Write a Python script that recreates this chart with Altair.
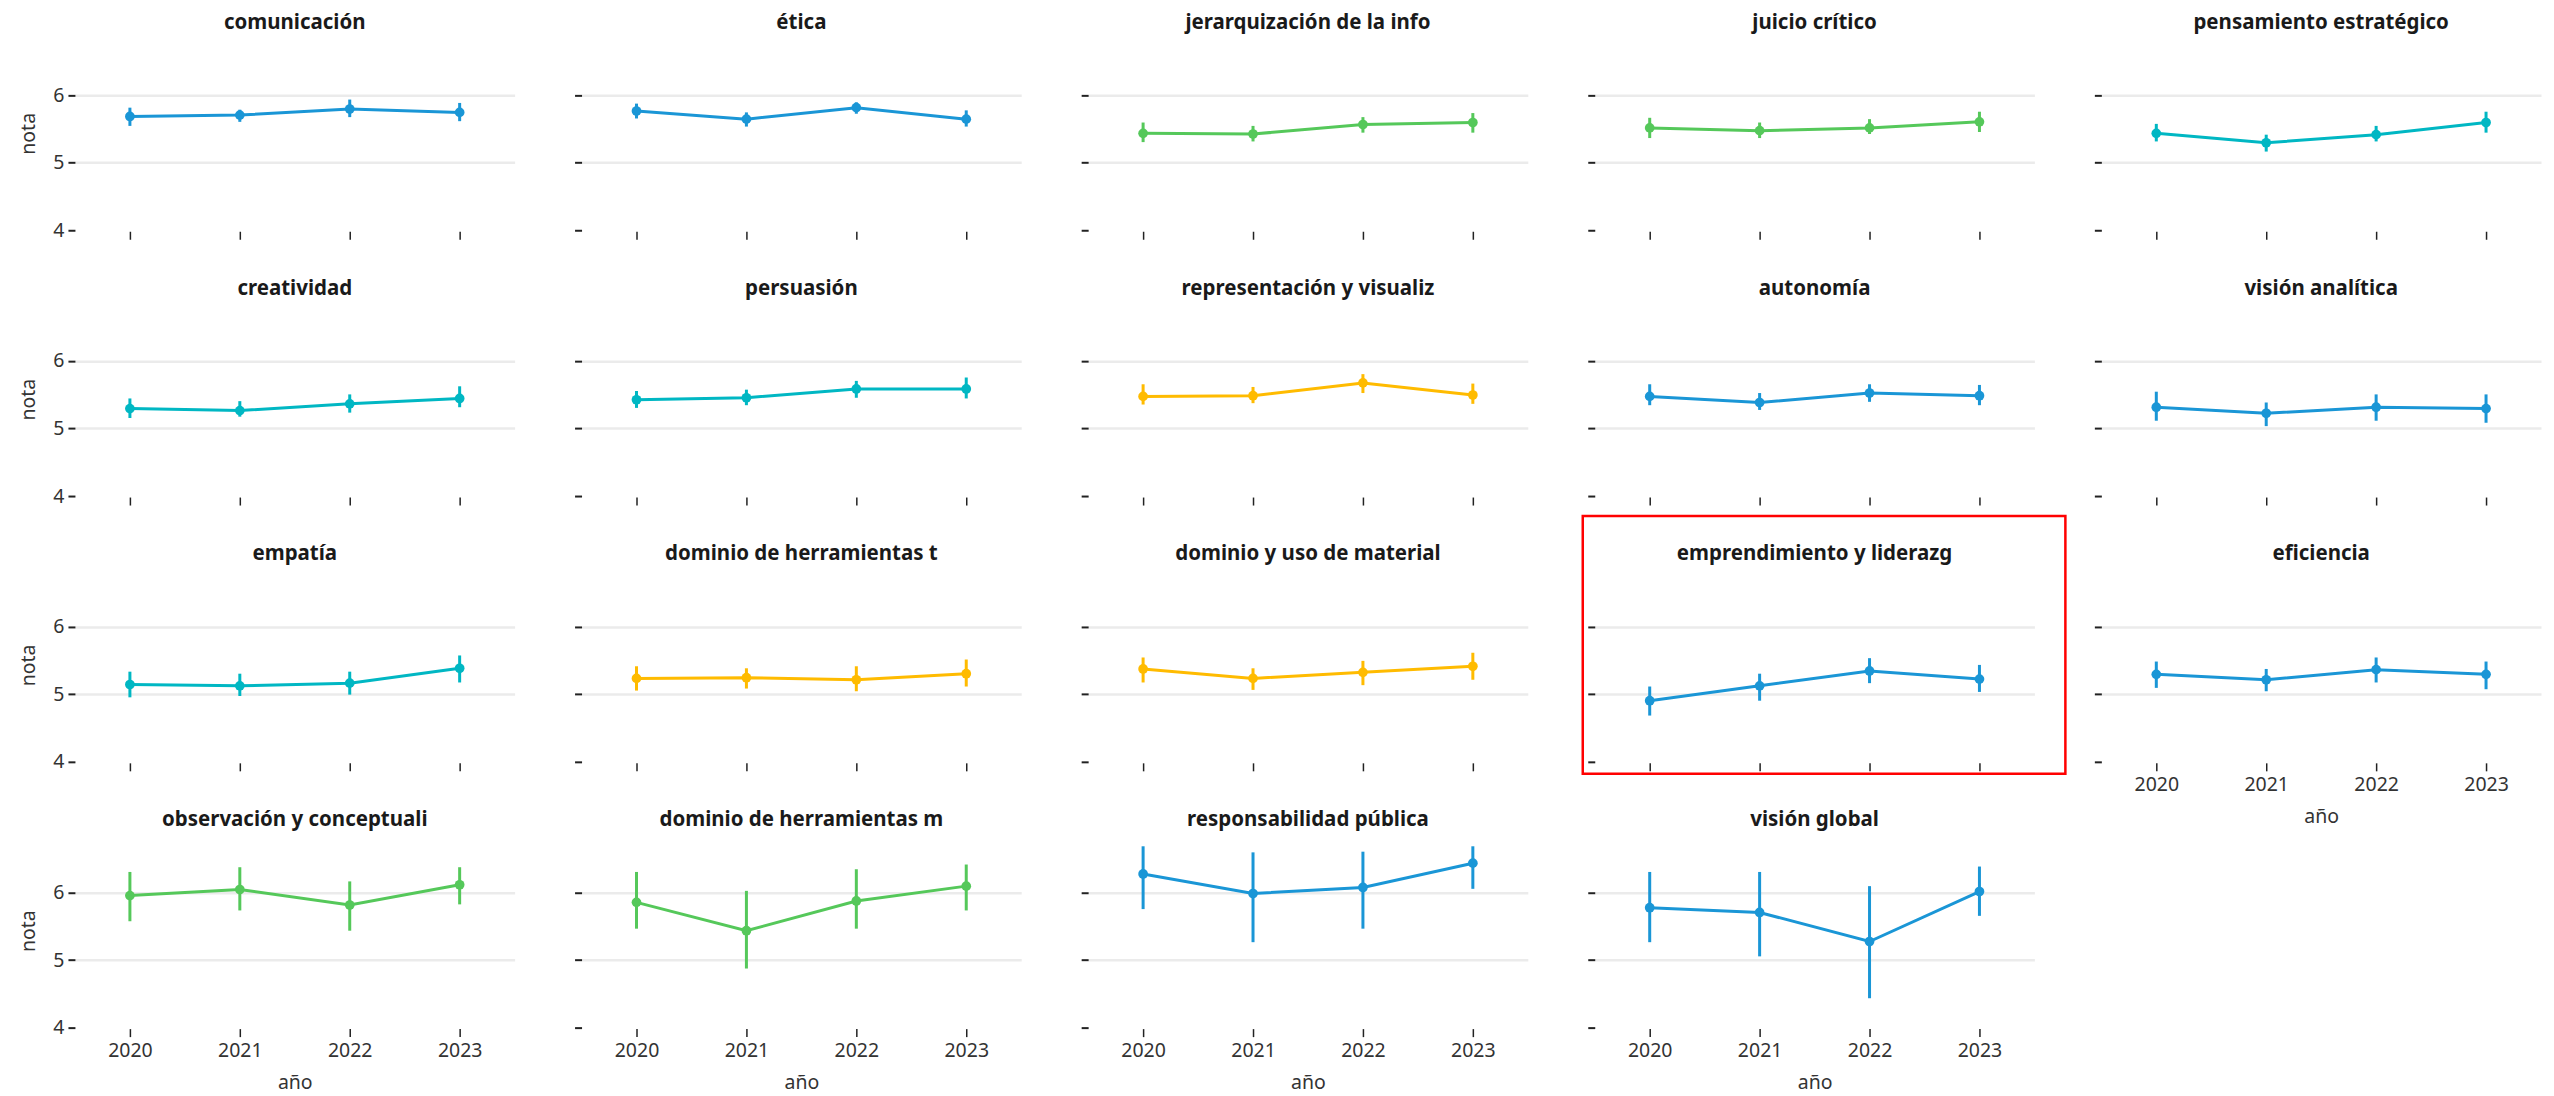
import altair as alt
import pandas as pd

years = ["2020", "2021", "2022", "2023"]

skills = [
    "comunicación", "ética", "jerarquización de la info", "juicio crítico", "pensamiento estratégico",
    "creatividad", "persuasión", "representación y visualiz", "autonomía", "visión analítica",
    "empatía", "dominio de herramientas t", "dominio y uso de material", "emprendimiento y liderazg", "eficiencia",
    "observación y conceptuali", "dominio de herramientas m", "responsabilidad pública", "visión global",
]

groups = [
    "azul", "azul", "verde", "verde", "turquesa",
    "turquesa", "turquesa", "amarillo", "azul", "azul",
    "turquesa", "amarillo", "amarillo", "azul", "azul",
    "verde", "verde", "azul", "azul",
]

group_colors = {"azul": "#1a96d6", "verde": "#55c85a", "turquesa": "#00b7c3", "amarillo": "#ffbb00"}

media = [
    [5.70, 5.72, 5.81, 5.76],
    [5.78, 5.66, 5.83, 5.66],
    [5.45, 5.44, 5.58, 5.61],
    [5.53, 5.49, 5.53, 5.62],
    [5.45, 5.31, 5.43, 5.61],
    [5.31, 5.28, 5.38, 5.46],
    [5.44, 5.47, 5.60, 5.60],
    [5.49, 5.50, 5.69, 5.51],
    [5.49, 5.40, 5.54, 5.50],
    [5.33, 5.24, 5.33, 5.31],
    [5.16, 5.14, 5.18, 5.40],
    [5.25, 5.26, 5.23, 5.32],
    [5.39, 5.25, 5.34, 5.43],
    [4.92, 5.14, 5.36, 5.24],
    [5.31, 5.23, 5.38, 5.31],
    [5.97, 6.06, 5.83, 6.13],
    [5.87, 5.45, 5.89, 6.11],
    [6.29, 6.00, 6.09, 6.45],
    [5.79, 5.72, 5.29, 6.03],
]

inferior = [
    [5.56, 5.62, 5.69, 5.63],
    [5.67, 5.55, 5.74, 5.55],
    [5.32, 5.33, 5.46, 5.46],
    [5.38, 5.38, 5.44, 5.47],
    [5.33, 5.18, 5.33, 5.46],
    [5.17, 5.19, 5.25, 5.33],
    [5.32, 5.36, 5.47, 5.46],
    [5.37, 5.39, 5.54, 5.38],
    [5.36, 5.29, 5.41, 5.36],
    [5.13, 5.05, 5.13, 5.10],
    [4.97, 4.99, 5.01, 5.19],
    [5.07, 5.10, 5.06, 5.13],
    [5.19, 5.08, 5.15, 5.23],
    [4.70, 4.92, 5.18, 5.05],
    [5.11, 5.06, 5.19, 5.09],
    [5.59, 5.75, 5.45, 5.84],
    [5.48, 4.89, 5.48, 5.75],
    [5.77, 5.28, 5.48, 6.07],
    [5.28, 5.07, 4.45, 5.67],
]

superior = [
    [5.83, 5.80, 5.95, 5.90],
    [5.89, 5.76, 5.91, 5.79],
    [5.61, 5.56, 5.69, 5.75],
    [5.68, 5.61, 5.66, 5.77],
    [5.59, 5.43, 5.56, 5.77],
    [5.46, 5.42, 5.52, 5.64],
    [5.57, 5.59, 5.72, 5.77],
    [5.67, 5.63, 5.82, 5.68],
    [5.67, 5.54, 5.67, 5.66],
    [5.56, 5.40, 5.52, 5.52],
    [5.35, 5.32, 5.35, 5.59],
    [5.43, 5.40, 5.43, 5.53],
    [5.56, 5.40, 5.51, 5.63],
    [5.13, 5.32, 5.55, 5.45],
    [5.50, 5.39, 5.56, 5.50],
    [6.32, 6.39, 6.18, 6.39],
    [6.32, 6.04, 6.36, 6.43],
    [6.70, 6.61, 6.62, 6.70],
    [6.32, 6.32, 6.11, 6.40],
]

highlight = "emprendimiento y liderazg"

rows = []
for s, g, m, lo, hi in zip(skills, groups, media, inferior, superior):
    for y, mv, lv, hv in zip(years, m, lo, hi):
        rows.append({"habilidad": s, "grupo": g, "año": y, "nota": mv, "inf": lv, "sup": hv})
df = pd.DataFrame(rows)

FONT = "Noto Sans"
TITLE_OFFSET = 2
BOX_TOP = -51
n = len(skills)
panels = []
for i, s in enumerate(skills):
    col = i % 5
    bottom = i + 5 >= n
    first = col == 0
    color = group_colors[groups[i]]

    x_axis = alt.Axis(
        labels=bottom, title="año" if bottom else None, ticks=True, tickSize=8, tickWidth=1.5,
        tickColor="#222", domain=False, grid=False, labelAngle=0, labelPadding=5,
        labelFontSize=19.5, labelColor="#333", titleFontSize=19.5, titleColor="#333",
        titleFontWeight="normal", titlePadding=13, labelFont=FONT, titleFont=FONT,
    )
    y_axis = alt.Axis(
        values=[4, 5, 6], labels=first, title="nota" if first else None, ticks=True, tickSize=7,
        tickWidth=2, tickColor="#222", tickOffset=-1, domain=False, grid=True, gridColor="#ebebeb", gridWidth=2.5,
        gridOpacity={"condition": {"test": "datum.value === 4", "value": 0}, "value": 1},
        labelPadding=4, labelFontSize=19.5, labelColor="#333", titleFontSize=19.5, titleColor="#333",
        titleFontWeight="normal", titlePadding=14, labelFont=FONT, titleFont=FONT,
    )
    xenc = alt.X("año:O", scale=alt.Scale(type="point", padding=0.5), axis=x_axis)
    yscale = alt.Scale(domain=[4, 6.9], nice=False, zero=False)

    base = alt.Chart(df).transform_filter(alt.datum.habilidad == s)
    err = base.mark_rule(color=color, strokeWidth=3).encode(
        x=xenc, y=alt.Y("inf:Q", scale=yscale, axis=y_axis), y2="sup:Q"
    )
    line = base.mark_line(color=color, strokeWidth=3).encode(
        x=xenc, y=alt.Y("nota:Q", scale=yscale, axis=y_axis)
    )
    pts = base.mark_circle(color=color, size=95, opacity=1).encode(
        x=xenc, y=alt.Y("nota:Q", scale=yscale, axis=y_axis)
    )
    layers = [err, line, pts]
    offset = TITLE_OFFSET
    if s == highlight:
        box = base.transform_filter(alt.datum["año"] == "2020").mark_rect(
            fillOpacity=0, stroke="#ff0000", strokeWidth=2.5, clip=False
        ).encode(
            x=alt.value(-12), x2=alt.value(471), y=alt.value(BOX_TOP), y2=alt.value(207)
        )
        layers.append(box)
        offset = TITLE_OFFSET + BOX_TOP - 1.25
    p = alt.layer(*layers).properties(
        width=440, height=196,
        title=alt.TitleParams(s, fontSize=20.5, fontWeight="bold", font=FONT, color="#1a1a1a",
                              anchor="middle", frame="group", offset=offset),
    )
    panels.append(p)

chart = alt.concat(
    *panels, columns=5, spacing=alt.RowColnumber(row=70, column=67), bounds="flush"
).properties(
    padding={"left": 10, "top": 4, "right": 5, "bottom": 2}
).configure(font=FONT).configure_view(stroke="transparent", strokeWidth=0)

chart.save("out.html", embed_options={"renderer": "svg", "actions": False})
